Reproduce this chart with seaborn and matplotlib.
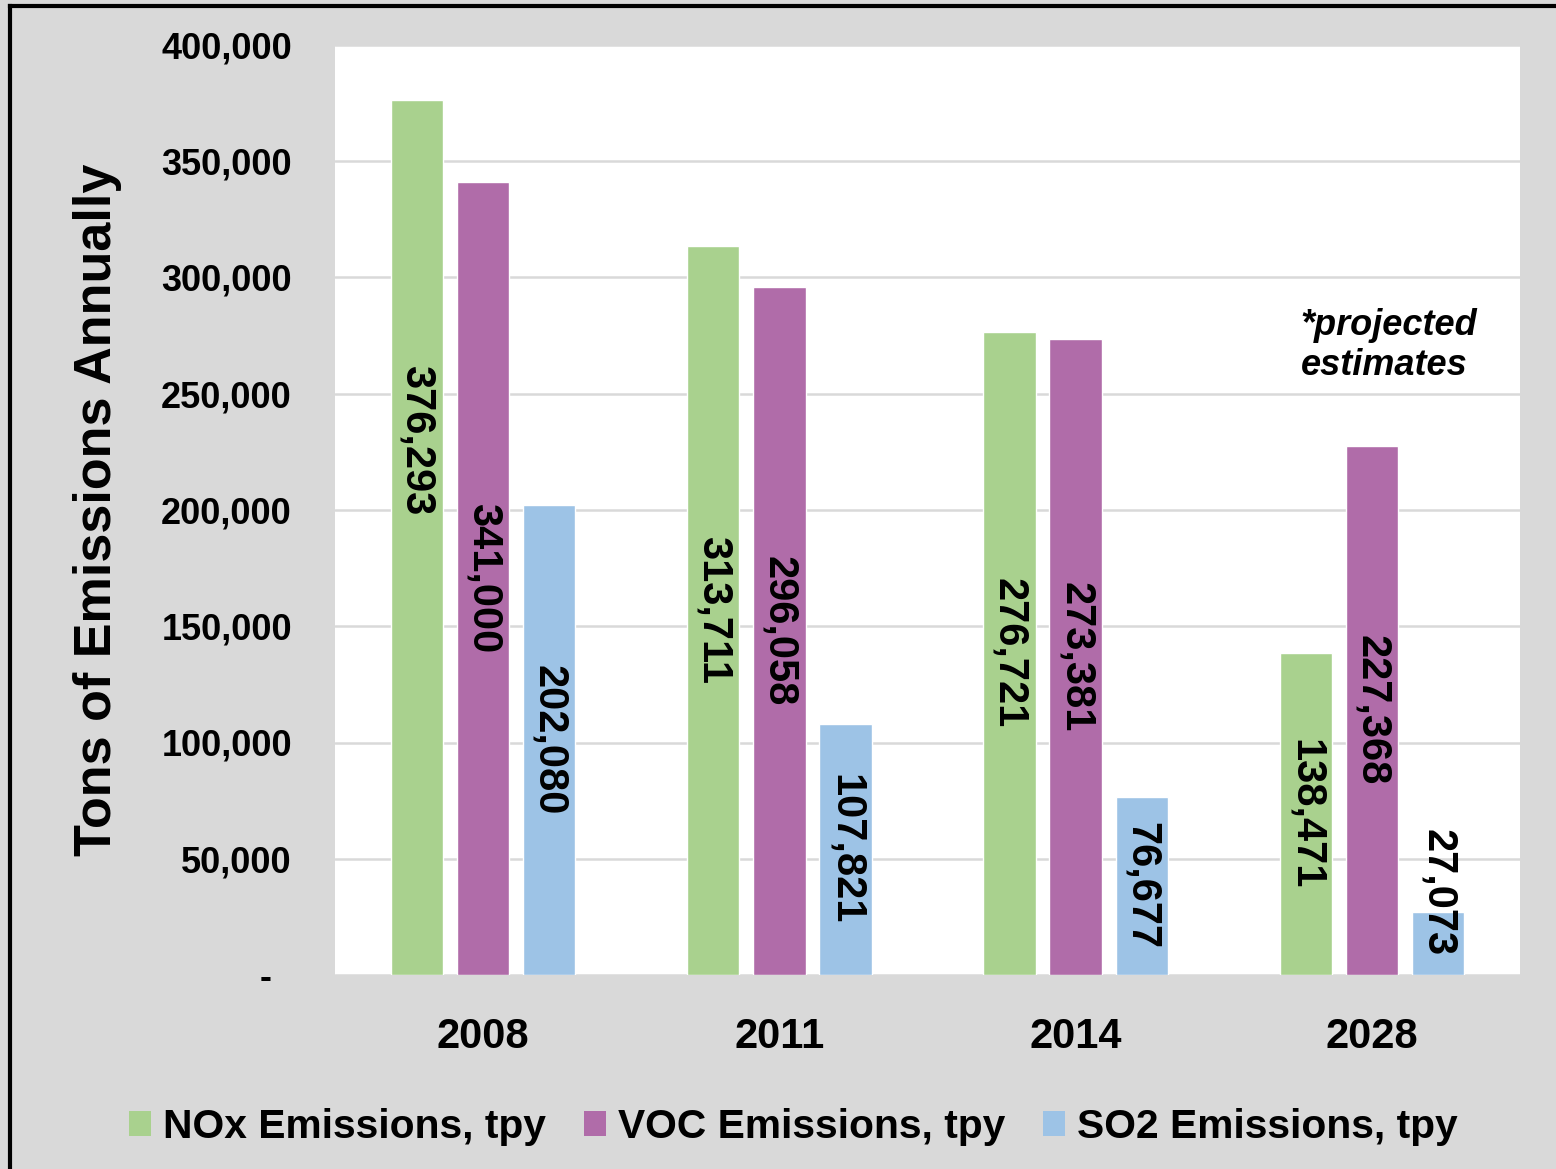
import matplotlib
matplotlib.use("Agg")
import matplotlib.pyplot as plt
from matplotlib.patches import Patch
from matplotlib.lines import Line2D
from matplotlib.ticker import FuncFormatter, MultipleLocator
import seaborn as sns
import pandas as pd

years = ["2008", "2011", "2014", "2028"]
series_names = ["NOx Emissions, tpy", "VOC Emissions, tpy", "SO2 Emissions, tpy"]
nox = [376293, 313711, 276721, 138471]
voc = [341000, 296058, 273381, 227368]
so2 = [202080, 107821, 76677, 27073]
colors = ["#a9d18e", "#b06ca9", "#9dc3e6"]
y_label = "Tons of Emissions Annually"
note = "*projected\nestimates"

rows = []
for name, vals in zip(series_names, [nox, voc, so2]):
    for yr, v in zip(years, vals):
        rows.append({"year": yr, "series": name, "value": v})
df = pd.DataFrame(rows)

sns.set_style("white")
plt.rcParams["font.family"] = ["Liberation Sans", "DejaVu Sans"]
plt.rcParams["font.weight"] = "bold"
plt.rcParams["text.color"] = "black"
plt.rcParams["axes.labelcolor"] = "black"
plt.rcParams["xtick.color"] = "black"
plt.rcParams["ytick.color"] = "black"

fig = plt.figure(figsize=(15.56, 11.69), dpi=100, facecolor="#d9d9d9")
ax = fig.add_axes([335/1556, 1-975/1169, (1520-335)/1556, (975-45)/1169])
ax.set_facecolor("white")

sns.barplot(data=df, x="year", y="value", hue="series", palette=colors,
            order=years, hue_order=series_names, width=0.67, gap=0.21,
            saturation=1, ax=ax, legend=False, errorbar=None, zorder=3)

ax.set_ylim(0, 400000)
ax.set_xlim(-0.5, 3.5)
ax.yaxis.set_major_locator(MultipleLocator(50000))
ax.yaxis.set_major_formatter(FuncFormatter(lambda v, p: "-  " if v == 0 else f"{int(v):,}"))
ax.grid(axis="y", color="#d9d9d9", linewidth=1.8, zorder=0)
ax.set_axisbelow(True)
for s in ax.spines.values():
    s.set_visible(False)
ax.tick_params(axis="y", length=0, pad=31, labelsize=26, labelcolor="black")
ax.tick_params(axis="x", length=0, pad=30, labelsize=30, labelcolor="black")
for lab in ax.get_xticklabels() + ax.get_yticklabels():
    lab.set_fontweight("bold")
ax.set_xlabel("")
ax.set_ylabel(y_label, fontsize=37.5, fontweight="bold", color="black")
ax.yaxis.set_label_coords(-0.18, 0.5)

# manual label placements (as moved in the original)
label_override = {("NOx Emissions, tpy", "2008"): 230000,
                  ("SO2 Emissions, tpy", "2028"): 35500}
for name, cont in zip(series_names, ax.containers):
    for yr, bar in zip(years, cont.patches):
        h = bar.get_height()
        xc = bar.get_x() + bar.get_width() / 2
        yc = label_override.get((name, yr), h / 2)
        ax.text(xc, yc, f"{int(round(h)):,}", rotation=270, ha="center", va="center",
                fontsize=30, fontweight="bold", color="black", zorder=5)

ax.text(2.76, 287000, note, ha="left", va="top", fontsize=26, color="black",
        fontweight="bold", fontstyle="italic", linespacing=1.2, zorder=5)

handles = [Patch(facecolor=c, edgecolor="none") for c in colors]
leg = fig.legend(handles, series_names, loc="center", bbox_to_anchor=(0.51, 1-1127/1169),
                 ncol=3, frameon=False, prop={"size": 29.3, "weight": "bold"},
                 handlelength=0.54, handleheight=0.54, handletextpad=0.3, columnspacing=0.93)
for t in leg.get_texts():
    t.set_color("black")

fig.add_artist(Line2D([10/1556, 10/1556], [0, 1-6/1169], transform=fig.transFigure,
                      color="black", linewidth=3, solid_capstyle="projecting"))
fig.add_artist(Line2D([10/1556, 1], [1-6/1169, 1-6/1169], transform=fig.transFigure,
                      color="black", linewidth=3, solid_capstyle="projecting"))

fig.savefig("out.png", dpi=100, facecolor=fig.get_facecolor())
